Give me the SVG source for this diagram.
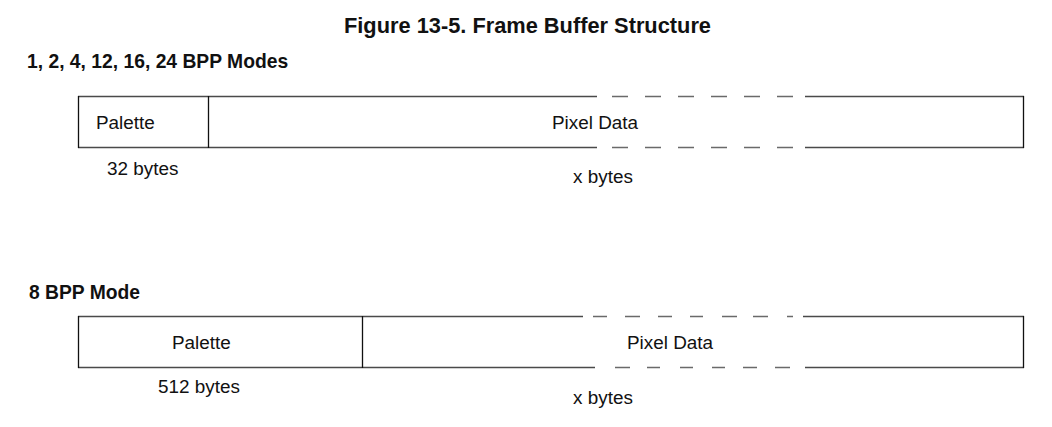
<svg xmlns="http://www.w3.org/2000/svg" width="1052" height="427" viewBox="0 0 1052 427">
<style>
text{font-family:"Liberation Sans",Arial,sans-serif;fill:#111}
.t{font-size:21.8px;font-weight:bold}
.h{font-size:19.3px;font-weight:bold}
.l{font-size:18.9px}
.hz{stroke:#4a4a4a;stroke-width:1.5;fill:none}
.dz{stroke:#6a6a6a;stroke-width:1.5;fill:none}
.vt{stroke:#111;stroke-width:1.3;fill:none}
</style>
<rect width="1052" height="427" fill="#fff"/>
<text class="t" x="527.5" y="33" text-anchor="middle">Figure 13-5. Frame Buffer Structure</text>
<text class="h" x="27" y="68">1, 2, 4, 12, 16, 24 BPP Modes</text>
<text class="h" x="29" y="299">8 BPP Mode</text>
<g id="buffer1">
<path class="hz" d="M78,96.5H597M805,96.5H1024M78,147.5H597M805,147.5H1024"/>
<path class="dz" d="M612,96.5H628M645,96.5H661M678,96.5H694M711,96.5H727M744,96.5H760M777,96.5H793M612,147.5H628M645,147.5H661M678,147.5H694M711,147.5H727M744,147.5H760M777,147.5H793"/>
<path class="vt" d="M78.5,96V148M208.5,96V148M1023.5,96V148"/>
<g id="palette1"><text class="l" x="96" y="128.5">Palette</text></g>
<g id="pixel1"><text class="l" x="552" y="128.5">Pixel Data</text></g>
<text class="l" x="107" y="175">32 bytes</text>
<text class="l" x="573" y="183">x bytes</text>
</g>
<g id="buffer2">
<path class="hz" d="M78,316.5H583M803,316.5H1024M78,367.5H595M805,367.5H1024"/>
<path class="dz" d="M593,316.5H607M625,316.5H640M658,316.5H672M690,316.5H703M722,316.5H737M753,316.5H768M787,316.5H793M615,367.5H630M647,367.5H660M680,367.5H693M712,367.5H725M743,367.5H757M775,367.5H790"/>
<path class="vt" d="M78.5,316V368M362.5,316V368M1023.5,316V368"/>
<g id="palette2"><text class="l" x="172" y="349">Palette</text></g>
<g id="pixel2"><text class="l" x="627" y="349">Pixel Data</text></g>
<text class="l" x="158" y="393">512 bytes</text>
<text class="l" x="573" y="404">x bytes</text>
</g>
<g id="connectors"></g>
</svg>
